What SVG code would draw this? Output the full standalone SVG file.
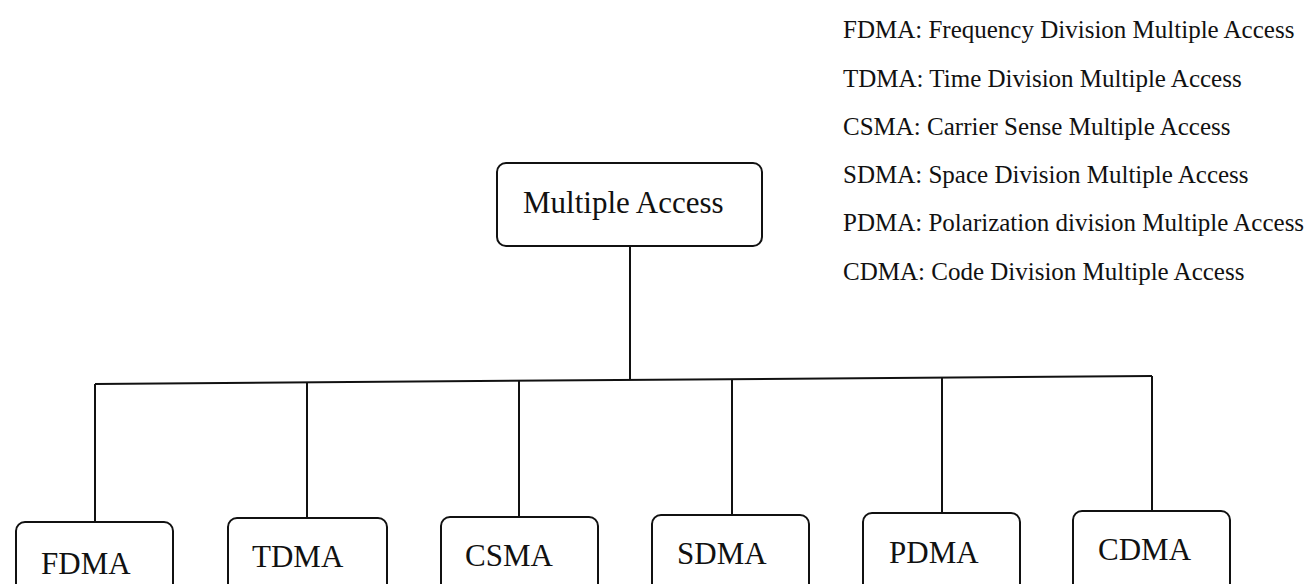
<svg xmlns="http://www.w3.org/2000/svg" width="1310" height="584" viewBox="0 0 1310 584">
  <style>
    .box { fill: #ffffff; stroke: #111111; stroke-width: 2; }
    .wire { fill: none; stroke: #111111; stroke-width: 2; }
    .label { font-family: "Liberation Serif", "Times New Roman", serif; fill: #111111; }
    .big { font-size: 31px; }
    .legend { font-size: 25px; }
  </style>
  <rect width="1310" height="584" fill="#ffffff"/>

  <!-- connectors: trunk, bus and drops -->
  <g id="connectors">
    <line class="wire" x1="630" y1="246" x2="630" y2="380"/>
    <line class="wire" x1="95" y1="384" x2="1152" y2="376"/>
    <line class="wire" x1="95" y1="384" x2="95" y2="522"/>
    <line class="wire" x1="307" y1="382.5" x2="307" y2="518"/>
    <line class="wire" x1="519" y1="381" x2="519" y2="517"/>
    <line class="wire" x1="732" y1="379.5" x2="732" y2="515"/>
    <line class="wire" x1="942" y1="378" x2="942" y2="513"/>
    <line class="wire" x1="1152" y1="376" x2="1152" y2="511"/>
  </g>

  <g id="root">
    <rect class="box" x="497" y="163" width="265" height="83" rx="9"/>
    <text class="label big" x="523" y="213">Multiple Access</text>
  </g>

  <g id="fdma">
    <rect class="box" x="16" y="522" width="157" height="90" rx="9"/>
    <text class="label big" x="41" y="574">FDMA</text>
  </g>
  <g id="tdma">
    <rect class="box" x="228" y="518" width="159" height="90" rx="9"/>
    <text class="label big" x="252" y="567">TDMA</text>
  </g>
  <g id="csma">
    <rect class="box" x="441" y="517" width="157" height="90" rx="9"/>
    <text class="label big" x="465" y="566">CSMA</text>
  </g>
  <g id="sdma">
    <rect class="box" x="652" y="515" width="157" height="90" rx="9"/>
    <text class="label big" x="677" y="564">SDMA</text>
  </g>
  <g id="pdma">
    <rect class="box" x="863" y="513" width="157" height="90" rx="9"/>
    <text class="label big" x="889" y="563">PDMA</text>
  </g>
  <g id="cdma">
    <rect class="box" x="1073" y="511" width="157" height="90" rx="9"/>
    <text class="label big" x="1098" y="560">CDMA</text>
  </g>

  <!-- abbreviation key -->
  <g id="legend" class="label legend">
    <text x="843" y="38">FDMA: Frequency Division Multiple Access</text>
    <text x="843" y="87">TDMA: Time Division Multiple Access</text>
    <text x="843" y="135">CSMA: Carrier Sense Multiple Access</text>
    <text x="843" y="183">SDMA: Space Division Multiple Access</text>
    <text x="843" y="231">PDMA: Polarization division Multiple Access</text>
    <text x="843" y="280">CDMA: Code Division Multiple Access</text>
  </g>
</svg>
